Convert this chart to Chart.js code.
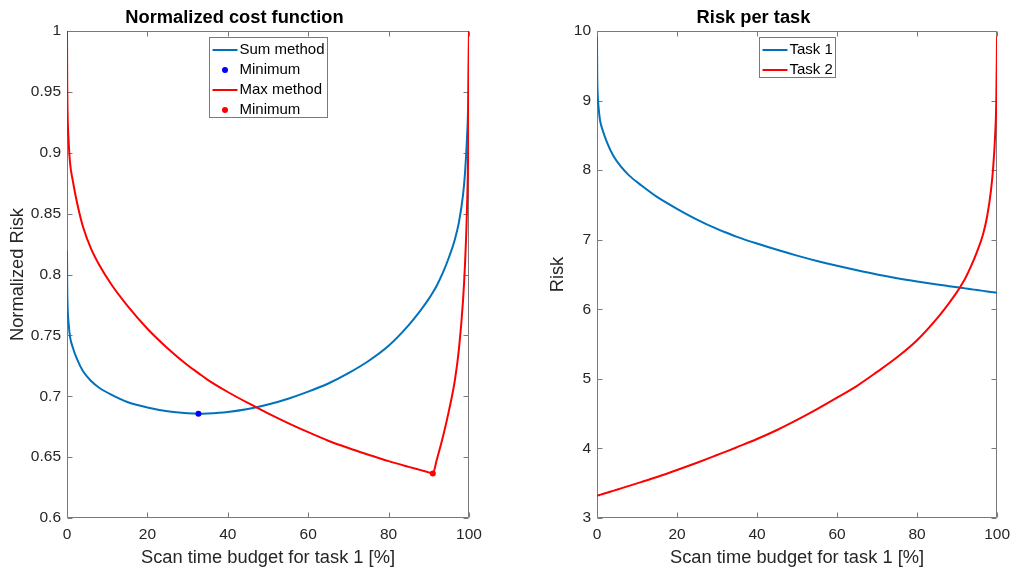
<!DOCTYPE html>
<html>
<head>
<meta charset="utf-8">
<script src="https://cdn.jsdelivr.net/npm/chart.js@4/dist/chart.umd.min.js"></script>
<style>
  html, body { margin: 0; padding: 0; background: #fff; width: 1017px; height: 576px; overflow: hidden; }
  #leftBox { position: absolute; left: 0; top: 0; width: 508px; height: 576px; }
  #rightBox { position: absolute; left: 508px; top: 0; width: 509px; height: 576px; }
</style>
</head>
<body>
<div id="leftBox"><canvas id="costChart" width="508" height="576"></canvas></div>
<div id="rightBox"><canvas id="taskChart" width="509" height="576"></canvas></div>
<script>
// Scan time budget given to task 1, in percent (shared sampling for every curve)
const budget = [0, 0.05, 0.15, 0.4, 0.75, 1.5, 2.5, 4, 6, 8, 11, 15, 20, 25, 30, 32.7, 35, 40, 45, 50,
                55, 60, 65, 70, 75, 80, 85, 88, 90, 91, 92, 93.5, 95, 96.5, 97.5, 98.5, 99, 99.5, 99.8, 100];

// Normalized cost, sum of both task risks
const sumRisk = [0.820, 0.792, 0.774, 0.760, 0.749, 0.7395, 0.7305, 0.7205, 0.7125, 0.707, 0.7013, 0.6953, 0.6908, 0.6877, 0.6861, 0.6857, 0.6859, 0.6871, 0.6895, 0.6932,
                 0.6980, 0.7038, 0.7105, 0.7190, 0.7290, 0.7415, 0.7585, 0.7708, 0.7800, 0.7852, 0.7910, 0.8015, 0.8140, 0.8290, 0.8430, 0.8650, 0.8830, 0.9120, 0.9420, 1.0000];

// Normalized cost, larger of the two task risks
const maxRisk = [1.000, 0.960, 0.932, 0.910, 0.892, 0.876, 0.859, 0.839, 0.821, 0.808, 0.792, 0.7745, 0.7555, 0.7395, 0.7255, 0.719, 0.7135, 0.7035, 0.6945, 0.686,
                 0.678, 0.6705, 0.6635, 0.6575, 0.652, 0.6467, 0.6420, 0.6393, 0.6375, 0.6366, 0.6480, 0.6665, 0.6880, 0.7135, 0.7390, 0.7780, 0.8080, 0.8540, 0.9050, 1.0000];

// Location of each method's minimum
const sumMinBudget = [32.7];
const sumMinValue = [0.6857];
const maxMinBudget = [91];
const maxMinValue = [0.6366];

// Risk of each task
const task1Risk = [9.92, 9.40, 9.12, 8.90, 8.72, 8.56, 8.40, 8.215, 8.05, 7.925, 7.785, 7.615, 7.445, 7.29, 7.155, 7.093, 7.042, 6.945, 6.855, 6.772,
                   6.695, 6.625, 6.56, 6.50, 6.447, 6.40, 6.357, 6.333, 6.317, 6.309, 6.301, 6.289, 6.277, 6.265, 6.257, 6.249, 6.245, 6.241, 6.239, 6.237];
const task2Risk = [3.32, 3.321, 3.323, 3.327, 3.333, 3.346, 3.364, 3.39, 3.426, 3.462, 3.516, 3.59, 3.69, 3.795, 3.905, 3.965, 4.018, 4.135, 4.265, 4.41,
                   4.565, 4.73, 4.90, 5.10, 5.31, 5.555, 5.87, 6.09, 6.25, 6.343, 6.44, 6.62, 6.83, 7.08, 7.33, 7.72, 8.02, 8.48, 8.98, 9.92];

// Tick values
const xTicks = [0, 20, 40, 60, 80, 100];
const costTicks = [0.6, 0.65, 0.7, 0.75, 0.8, 0.85, 0.9, 0.95, 1];
const riskTicks = [3, 4, 5, 6, 7, 8, 9, 10];

const FONT = '"Liberation Sans", Arial, Helvetica, sans-serif';
const BLUE = '#0072BD';
const RED = '#FF0000';
const AXIS_GRAY = '#7a7a7a';
const TEXT_GRAY = '#262626';

Chart.defaults.font.family = FONT;
Chart.defaults.color = TEXT_GRAY;

const pts = (xs, ys) => xs.map((x, i) => ({ x, y: ys[i] }));

// Box around the plot with inward tick marks on all four sides
const axesBox = {
  id: 'axesBox',
  beforeDatasetsDraw(chart) {
    const { ctx, chartArea: a, scales: { x, y } } = chart;
    const L = Math.round(a.left) + 0.5, R = Math.round(a.right) - 0.5;
    const T = Math.round(a.top) + 0.5, B = Math.round(a.bottom) - 0.5;
    const len = 5;
    ctx.save();
    ctx.strokeStyle = AXIS_GRAY;
    ctx.lineWidth = 1;
    ctx.beginPath();
    ctx.rect(L, T, R - L, B - T);
    x.ticks.forEach(t => {
      const p = Math.round(x.getPixelForValue(t.value)) + 0.5;
      ctx.moveTo(p, B); ctx.lineTo(p, B - len);
      ctx.moveTo(p, T); ctx.lineTo(p, T + len);
    });
    y.ticks.forEach(t => {
      const p = Math.round(y.getPixelForValue(t.value)) + 0.5;
      ctx.moveTo(L, p); ctx.lineTo(L + len, p);
      ctx.moveTo(R, p); ctx.lineTo(R - len, p);
    });
    ctx.stroke();
    ctx.restore();
  }
};

// Framed legend centred at the top of the plot
const boxLegend = {
  id: 'boxLegend',
  afterDraw(chart, args, opts) {
    const { ctx, chartArea: a } = chart;
    const items = chart.data.datasets;
    const rowH = opts.rowHeight, sample = opts.sampleLength;
    ctx.save();
    ctx.font = opts.fontSize + 'px ' + FONT;
    const textW = Math.max(...items.map(d => ctx.measureText(d.label).width));
    const w = Math.round(3 + sample + 2 + textW + 3);
    const h = rowH * items.length;
    const left = Math.round((a.left + a.right) / 2 - w / 2) + 0.5;
    const top = Math.round(a.top + opts.offsetTop) + 0.5;
    ctx.fillStyle = '#fff';
    ctx.fillRect(left, top, w, h);
    ctx.strokeStyle = AXIS_GRAY;
    ctx.lineWidth = 1;
    ctx.strokeRect(left, top, w, h);
    items.forEach((d, i) => {
      const cy = Math.round(top + 12 + i * rowH);
      const sx = left + 3;
      if (d.showLine === false) {
        ctx.fillStyle = d.pointBackgroundColor;
        ctx.beginPath();
        ctx.arc(sx + sample / 2, cy, d.pointRadius, 0, Math.PI * 2);
        ctx.fill();
      } else {
        ctx.strokeStyle = d.borderColor;
        ctx.lineWidth = d.borderWidth;
        ctx.beginPath();
        ctx.moveTo(sx, cy); ctx.lineTo(sx + sample, cy);
        ctx.stroke();
      }
      ctx.fillStyle = '#000';
      ctx.textBaseline = 'middle';
      ctx.textAlign = 'left';
      ctx.fillText(d.label, sx + sample + 2, cy);
    });
    ctx.restore();
  }
};

function makeOptions(cfg) {
  return {
    responsive: false,
    animation: false,
    devicePixelRatio: 1,
    layout: { padding: { left: 0, right: cfg.padRight, top: 0, bottom: 0 } },
    plugins: {
      legend: { display: false },
      tooltip: { enabled: false },
      title: {
        display: true,
        text: cfg.title,
        color: '#000',
        font: { size: 18.3, weight: 'bold', lineHeight: 1.15 },
        padding: { top: 7, bottom: 3 }
      },
      boxLegend: { rowHeight: 20, sampleLength: 25, fontSize: 15, offsetTop: 6 }
    },
    elements: { line: { cubicInterpolationMode: 'monotone' } },
    scales: {
      x: {
        type: 'linear', min: 0, max: 100,
        afterBuildTicks: s => { s.ticks = xTicks.map(v => ({ value: v })); },
        afterFit: s => { s.height = 58; },
        grid: { display: false, drawTicks: false },
        border: { display: false },
        ticks: { font: { size: 15.5 }, padding: 7, maxRotation: 0, color: TEXT_GRAY, callback: v => String(v) },
        title: { display: true, text: 'Scan time budget for task 1 [%]', font: { size: 18.3 }, color: TEXT_GRAY, padding: { top: 0, bottom: 7 } }
      },
      y: {
        type: 'linear', min: cfg.yMin, max: cfg.yMax,
        afterBuildTicks: s => { s.ticks = cfg.yTicks.map(v => ({ value: v })); },
        afterFit: s => { s.width = cfg.yWidth; },
        grid: { display: false, drawTicks: false },
        border: { display: false },
        ticks: { font: { size: 15.5 }, padding: 6, color: TEXT_GRAY, callback: v => String(v) },
        title: { display: true, text: cfg.yTitle, font: { size: 18.3 }, color: TEXT_GRAY, padding: { top: cfg.yTitlePad, bottom: 0 } }
      }
    }
  };
}

new Chart(document.getElementById('costChart'), {
  type: 'line',
  data: {
    datasets: [
      { label: 'Sum method', data: pts(budget, sumRisk), borderColor: BLUE, borderWidth: 2, pointRadius: 0,
        fill: false, order: 4 },
      { label: 'Minimum', data: pts(sumMinBudget, sumMinValue), showLine: false, pointRadius: 3,
        pointBackgroundColor: '#0000FF', pointBorderWidth: 0, borderColor: '#0000FF', order: 2 },
      { label: 'Max method', data: pts(budget, maxRisk), borderColor: RED, borderWidth: 2, pointRadius: 0,
        fill: false, order: 3 },
      { label: 'Minimum', data: pts(maxMinBudget, maxMinValue), showLine: false, pointRadius: 3,
        pointBackgroundColor: RED, pointBorderWidth: 0, borderColor: RED, order: 1 }
    ]
  },
  options: makeOptions({
    title: 'Normalized cost function', padRight: 39, yWidth: 67, yMin: 0.6, yMax: 1,
    yTicks: costTicks, yTitle: 'Normalized Risk', yTitlePad: 7
  }),
  plugins: [axesBox, boxLegend]
});

new Chart(document.getElementById('taskChart'), {
  type: 'line',
  data: {
    datasets: [
      { label: 'Task 1', data: pts(budget, task1Risk), borderColor: BLUE, borderWidth: 2, pointRadius: 0,
        fill: false, order: 2 },
      { label: 'Task 2', data: pts(budget, task2Risk), borderColor: RED, borderWidth: 2, pointRadius: 0,
        fill: false, order: 1 }
    ]
  },
  options: makeOptions({
    title: 'Risk per task', padRight: 18, yWidth: 89, yMin: 3, yMax: 10,
    yTicks: riskTicks, yTitle: 'Risk', yTitlePad: 39
  }),
  plugins: [axesBox, boxLegend]
});
</script>
</body>
</html>
